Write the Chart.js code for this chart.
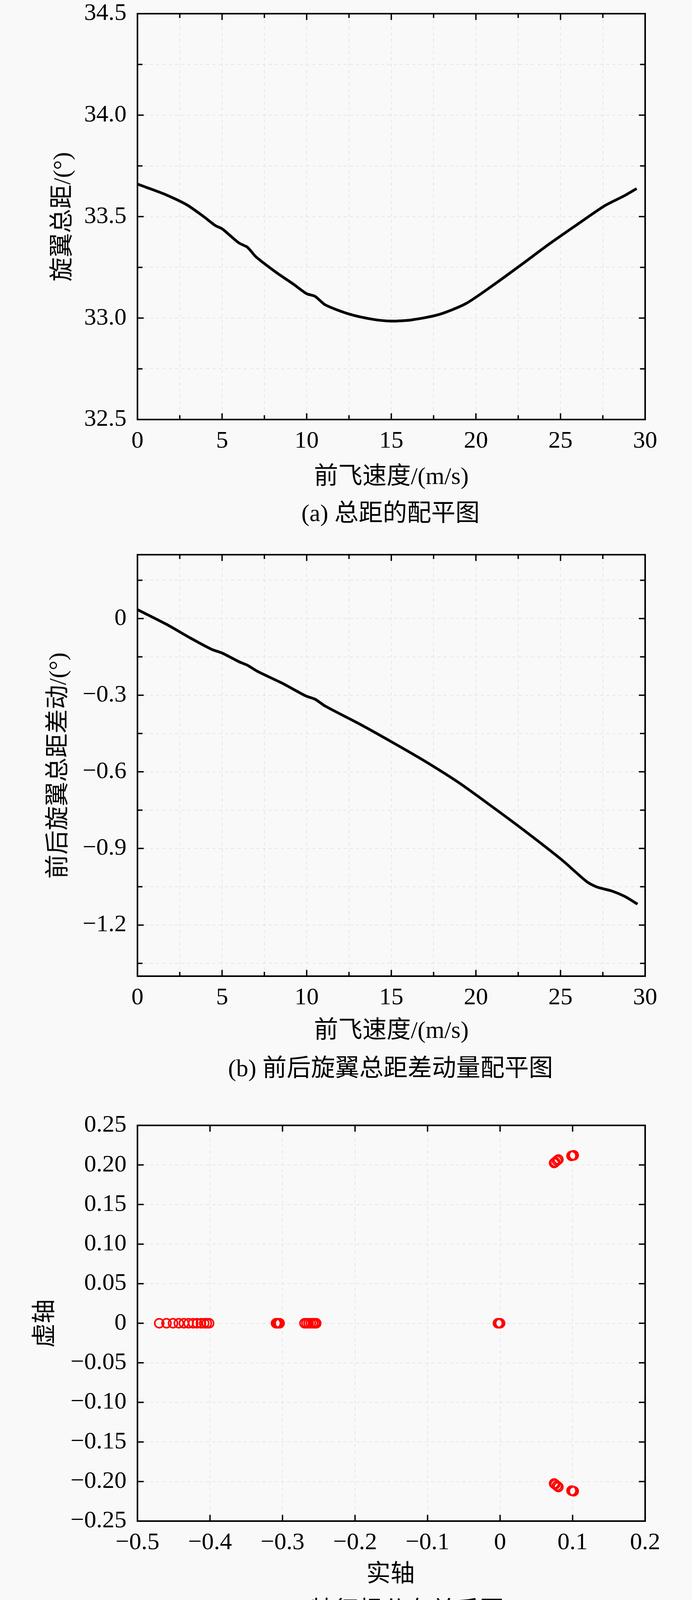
<!DOCTYPE html>
<html>
<head>
<meta charset="utf-8">
<script src="https://cdn.jsdelivr.net/npm/chart.js@4.4.1/dist/chart.umd.min.js"></script>
<style>
  html, body { margin: 0; padding: 0; background: #f9f9f9; }
  body { width: 1772px; height: 4163px; position: relative; overflow: hidden; }
  canvas { position: absolute; left: 0; }
  .lbl {
    position: absolute; white-space: nowrap; color: #000;
    font-family: "Liberation Serif", "Times New Roman", "Noto Sans CJK SC", serif;
    font-size: 62px; line-height: 1;
    transform: translate(-50%, -50%);
  }
  .rot { transform: translate(-50%, -50%) rotate(-90deg); }
</style>
</head>
<body>
<canvas id="chartA" width="1772" height="1184" style="top:0px"></canvas>
<canvas id="chartB" width="1772" height="1229" style="top:1380px"></canvas>
<canvas id="chartC" width="1772" height="1164" style="top:2840px"></canvas>

<div class="lbl rot" style="left:158px; top:555px">旋翼总距/(°)</div>
<div class="lbl" style="left:1002px; top:1218px">前飞速度/(m/s)</div>
<div class="lbl" style="left:1000px; top:1313px">(a) 总距的配平图</div>

<div class="lbl rot" style="left:147px; top:1960px">前后旋翼总距差动/(°)</div>
<div class="lbl" style="left:1002px; top:2636px">前飞速度/(m/s)</div>
<div class="lbl" style="left:1000px; top:2734px">(b) 前后旋翼总距差动量配平图</div>

<div class="lbl rot" style="left:113px; top:3388px">虚轴</div>
<div class="lbl" style="left:1000px; top:4028px">实轴</div>
<div class="lbl" style="left:1000px; top:4122px">(c) 特征根分布关系图</div>

<script>
// (a) 总距配平
const speedA = [0, 0.5, 1.7, 2.9, 3.9, 4.6, 5.0, 6.0, 6.5, 7.0, 8.2, 9.2, 10.0, 10.5, 11.1,
  12.5, 13.9, 15.0, 16.2, 17.8, 19.4, 21.0, 22.7, 24.3, 25.9, 27.6, 28.8, 29.5];
const pitchA = [33.66, 33.645, 33.607, 33.559, 33.501, 33.456, 33.44, 33.37, 33.349, 33.302,
  33.225, 33.168, 33.12, 33.107, 33.065, 33.02, 32.994, 32.985, 32.991, 33.017, 33.071,
  33.161, 33.264, 33.363, 33.456, 33.553, 33.604, 33.638];

// (b) 前后旋翼总距差动
const speedB = [0, 1.7, 3.15, 4.4, 5.0, 6.0, 6.5, 7.1, 8.55, 9.95, 10.5, 11.1, 13.1, 15.05,
  17.0, 19.0, 20.95, 22.9, 25.1, 26.55, 27.15, 28.05, 28.8, 29.55];
const diffB = [0.035, -0.022, -0.077, -0.121, -0.135, -0.169, -0.183, -0.207, -0.253, -0.303,
  -0.316, -0.343, -0.412, -0.484, -0.559, -0.643, -0.736, -0.832, -0.946, -1.03, -1.051,
  -1.067, -1.088, -1.118];

// (c) 特征根
const rootRe = [-0.47, -0.46, -0.451, -0.443, -0.436, -0.4295, -0.4232, -0.4178, -0.4125,
  -0.408, -0.4044, -0.4012,
  -0.309, -0.3075, -0.3065, -0.305, -0.304,
  -0.2697, -0.267, -0.264, -0.261, -0.258, -0.2555, -0.2535,
  -0.003, -0.002, -0.001, 0,
  0.0745, 0.076, 0.0785, 0.0804, 0.0985, 0.1, 0.1015,
  0.0745, 0.076, 0.0785, 0.0804, 0.0985, 0.1, 0.1015];
const rootIm = [0, 0, 0, 0, 0, 0, 0, 0, 0, 0, 0, 0,
  0, 0, 0, 0, 0,
  0, 0, 0, 0, 0, 0, 0,
  0, 0, 0, 0,
  0.2025, 0.2036, 0.2055, 0.2069, 0.2115, 0.2119, 0.2122,
  -0.2025, -0.2036, -0.2055, -0.2069, -0.2115, -0.2119, -0.2122];

// tick values and labels
const speedTicks = [0, 2.5, 5, 7.5, 10, 12.5, 15, 17.5, 20, 22.5, 25, 27.5, 30];
const speedLabels = ['0', '', '5', '', '10', '', '15', '', '20', '', '25', '', '30'];
const pitchTicks = [32.5, 32.75, 33, 33.25, 33.5, 33.75, 34, 34.25, 34.5];
const pitchLabels = ['32.5', '', '33.0', '', '33.5', '', '34.0', '', '34.5'];
const diffTicks = [-1.35, -1.2, -1.05, -0.9, -0.75, -0.6, -0.45, -0.3, -0.15, 0, 0.15];
const diffLabels = ['', '\u22121.2', '', '\u22120.9', '', '\u22120.6', '', '\u22120.3', '', '0', ''];
const reTicks = [-0.5, -0.4, -0.3, -0.2, -0.1, 0, 0.1, 0.2];
const reLabels = ['\u22120.5', '\u22120.4', '\u22120.3', '\u22120.2', '\u22120.1', '0', '0.1', '0.2'];
const imTicks = [-0.25, -0.2, -0.15, -0.1, -0.05, 0, 0.05, 0.1, 0.15, 0.2, 0.25];
const imLabels = ['\u22120.25', '\u22120.20', '\u22120.15', '\u22120.10', '\u22120.05', '0',
  '0.05', '0.10', '0.15', '0.20', '0.25'];

const serif = "'Liberation Serif', 'Times New Roman', serif";

// frame box and inward ticks on all four sides
const frameTicks = {
  id: 'frameTicks',
  afterDraw(chart) {
    const { ctx, chartArea: a, scales } = chart;
    ctx.save();
    ctx.strokeStyle = '#000';
    ctx.lineWidth = 3.5;
    ctx.beginPath();
    scales.x.ticks.forEach((t) => {
      const px = scales.x.getPixelForValue(t.value);
      const len = t.label ? 16 : 11;
      ctx.moveTo(px, a.bottom); ctx.lineTo(px, a.bottom - len);
      ctx.moveTo(px, a.top); ctx.lineTo(px, a.top + len);
    });
    scales.y.ticks.forEach((t) => {
      const py = scales.y.getPixelForValue(t.value);
      const len = t.label ? 16 : 13;
      ctx.moveTo(a.left, py); ctx.lineTo(a.left + len, py);
      ctx.moveTo(a.right, py); ctx.lineTo(a.right - len, py);
    });
    ctx.stroke();
    ctx.lineWidth = 4;
    ctx.strokeRect(a.left, a.top, a.right - a.left, a.bottom - a.top);
    ctx.restore();
  }
};

function axis(min, max, values, labels, isX) {
  return {
    type: 'linear',
    min: min,
    max: max,
    afterBuildTicks: (scale) => { scale.ticks = values.map((v) => ({ value: v })); },
    afterFit: (scale) => {
      if (isX) scale.height = 110; else scale.width = 352;
      // keep the plot box exactly where the layout padding puts it
      scale.paddingTop = 0;
      scale.paddingBottom = 0;
      scale.paddingLeft = 0;
      scale.paddingRight = 0;
    },
    grid: { color: '#e6e6e6', lineWidth: 2, drawTicks: false },
    border: { display: false, dash: [8, 8] },
    ticks: {
      autoSkip: false,
      maxRotation: 0,
      padding: isX ? 19 : 28,
      color: '#000',
      font: { family: serif, size: 62 },
      callback: (v, i) => labels[i]
    }
  };
}

function baseOptions(padTop, xAxis, yAxis) {
  return {
    responsive: false,
    animation: false,
    devicePixelRatio: 1,
    layout: { padding: { top: padTop, right: 120, bottom: 0, left: 0 } },
    plugins: { legend: { display: false }, tooltip: { enabled: false } },
    scales: { x: xAxis, y: yAxis }
  };
}

new Chart(document.getElementById('chartA'), {
  type: 'scatter',
  data: {
    datasets: [{
      data: speedA.map((v, i) => ({ x: v, y: pitchA[i] })),
      showLine: true,
      borderColor: '#000',
      borderWidth: 7,
      pointRadius: 0,
      tension: 0.25
    }]
  },
  options: baseOptions(35,
    axis(0, 30, speedTicks, speedLabels, true),
    axis(32.5, 34.5, pitchTicks, pitchLabels, false)),
  plugins: [frameTicks]
});

new Chart(document.getElementById('chartB'), {
  type: 'scatter',
  data: {
    datasets: [{
      data: speedB.map((v, i) => ({ x: v, y: diffB[i] })),
      showLine: true,
      borderColor: '#000',
      borderWidth: 7,
      pointRadius: 0,
      tension: 0.25
    }]
  },
  options: baseOptions(40,
    axis(0, 30, speedTicks, speedLabels, true),
    axis(-1.4, 0.25, diffTicks, diffLabels, false)),
  plugins: [frameTicks]
});

new Chart(document.getElementById('chartC'), {
  type: 'scatter',
  data: {
    datasets: [{
      data: rootRe.map((v, i) => ({ x: v, y: rootIm[i] })),
      pointStyle: 'circle',
      pointRadius: 11.5,
      pointBorderWidth: 4,
      pointBorderColor: '#ff0000',
      pointBackgroundColor: 'rgba(0,0,0,0)'
    }]
  },
  options: baseOptions(41,
    axis(-0.5, 0.2, reTicks, reLabels, true),
    axis(-0.25, 0.25, imTicks, imLabels, false)),
  plugins: [frameTicks]
});
</script>
</body>
</html>
